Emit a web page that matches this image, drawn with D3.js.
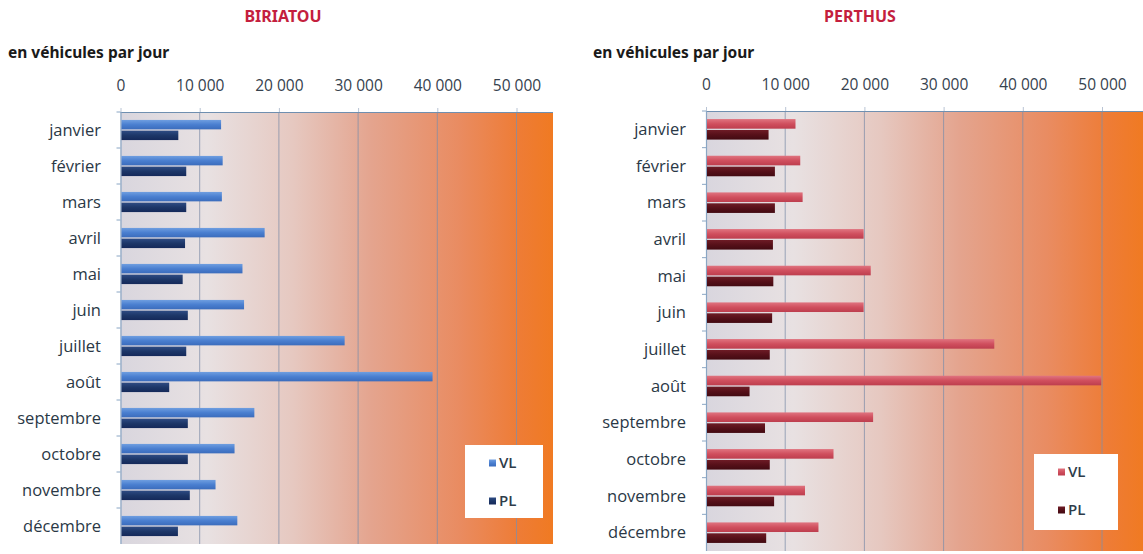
<!DOCTYPE html>
<html>
<head>
<meta charset="utf-8">
<script src="https://cdn.jsdelivr.net/npm/d3@7"></script>
<style>
  body { margin: 0; background: #fff; }
  .title { font-family: "Noto Sans", sans-serif; font-weight: bold; font-size: 16px; fill: #c41f3e; }
  .unit { font-family: "Noto Sans", sans-serif; font-weight: bold; font-size: 15.5px; fill: #1a1a1a; }
  .tick text { font-family: "Open Sans", sans-serif; font-size: 15.5px; font-weight: 500; fill: #36424e; }
  .month { font-family: "Open Sans", sans-serif; font-size: 16.5px; font-weight: 500; fill: #2a3846; }
  .legend text { font-family: "Open Sans", sans-serif; font-size: 15px; font-weight: 600; fill: #2e3c4a; }
</style>
</head>
<body>
<div id="chart"></div>
<script>
// data (vehicles per day)
var months = ["janvier", "février", "mars", "avril", "mai", "juin", "juillet",
  "août", "septembre", "octobre", "novembre", "décembre"];
var biriatouVL = [12700, 12900, 12800, 18200, 15400, 15600, 28300, 39400, 16900, 14400, 12000, 14750];
var biriatouPL = [7300, 8300, 8300, 8150, 7850, 8500, 8300, 6150, 8500, 8500, 8750, 7250];
var perthusVL = [11300, 11900, 12200, 19900, 20800, 19900, 36400, 49900, 21100, 16100, 12500, 14200];
var perthusPL = [7900, 8700, 8700, 8450, 8500, 8350, 8050, 5500, 7450, 8050, 8600, 7600];
var xTicks = [0, 10000, 20000, 30000, 40000, 50000];
var seriesNames = ["VL", "PL"];

var svgWidth = 1143;
var svgHeight = 554;

var svg = d3.select("#chart")
  .append("svg")
  .attr("width", svgWidth)
  .attr("height", svgHeight);

var defs = svg.append("defs");

// background gradient: grey-white -> salmon -> orange
var bg = defs.append("linearGradient").attr("id", "bgGrad")
  .attr("x1", "0%").attr("x2", "100%").attr("y1", "0%").attr("y2", "0%");
[["0%", "#d9d6de"], ["20%", "#e8e1e2"], ["40%", "#e6c8c0"], ["58%", "#e4a48e"],
 ["78%", "#e98c62"], ["92%", "#ee7c36"], ["100%", "#f07a22"]].forEach(function(s) {
  bg.append("stop").attr("offset", s[0]).attr("stop-color", s[1]);
});

// bar gradients (lighter on top)
function barGrad(id, top, mid, bottom) {
  var g = defs.append("linearGradient").attr("id", id)
    .attr("x1", "0%").attr("x2", "0%").attr("y1", "0%").attr("y2", "100%");
  g.append("stop").attr("offset", "0%").attr("stop-color", top);
  g.append("stop").attr("offset", "50%").attr("stop-color", mid);
  g.append("stop").attr("offset", "100%").attr("stop-color", bottom);
}
barGrad("bVL", "#6f9ee0", "#4a7fd0", "#3b6cbc");
barGrad("bPL", "#2e4c84", "#1d3768", "#15295a");
barGrad("pVL", "#e07480", "#d04f5e", "#bd3e4e");
barGrad("pPL", "#6e1c26", "#561019", "#420a12");

function drawChart(opts) {
  var g = svg.append("g");

  // title and unit
  g.append("text").attr("class", "title")
    .attr("x", opts.titleX).attr("y", 22)
    .attr("text-anchor", "middle")
    .text(opts.title);
  g.append("text").attr("class", "unit")
    .attr("x", opts.unitX).attr("y", 58)
    .text("en véhicules par jour");

  var x = d3.scaleLinear()
    .domain([0, 55000])
    .range([opts.left, opts.left + 55000 * opts.pxPer]);

  var y = d3.scaleBand()
    .domain(months)
    .range([opts.top, opts.bottom])
    .paddingInner(0.44)
    .paddingOuter(0.22);

  var ySub = d3.scaleBand()
    .domain(seriesNames)
    .range([0, y.bandwidth()])
    .paddingInner(0.12);

  // plot background
  g.append("rect")
    .attr("x", x(0)).attr("y", opts.top)
    .attr("width", opts.right - x(0)).attr("height", opts.bottom - opts.top)
    .attr("fill", "url(#bgGrad)");

  // vertical gridlines
  g.selectAll(".grid")
    .data(xTicks.slice(1))
    .enter()
    .append("line")
    .attr("x1", d => x(d)).attr("x2", d => x(d))
    .attr("y1", opts.top).attr("y2", opts.bottom)
    .attr("stroke", "#7f8ea8")
    .attr("stroke-opacity", 0.75)
    .attr("stroke-width", 1);

  // top axis
  var topAxis = d3.axisTop(x)
    .tickValues(xTicks)
    .tickSize(4)
    .tickPadding(17)
    .tickFormat(d => d3.format(",")(d).replace(",", " "));
  var xAxis = g.append("g")
    .attr("transform", `translate(0, ${opts.top})`)
    .call(topAxis);
  xAxis.select(".domain").remove();
  xAxis.selectAll(".tick line").attr("stroke", "#b9c4d4");
  g.append("line")
    .attr("x1", x(0)).attr("x2", opts.right)
    .attr("y1", opts.top + 0.5).attr("y2", opts.top + 0.5)
    .attr("stroke", "#6f8fb0").attr("stroke-width", 1.2);

  // left axis line and category ticks
  g.append("line")
    .attr("x1", x(0) + 0.5).attr("x2", x(0) + 0.5)
    .attr("y1", opts.top).attr("y2", opts.bottom)
    .attr("stroke", "#8aa6c4").attr("stroke-width", 1.2);
  g.selectAll(".ytick")
    .data(months)
    .enter()
    .append("line")
    .attr("x1", x(0) - 4).attr("x2", x(0))
    .attr("y1", d => y(d) - y.step() * y.paddingInner() / 2)
    .attr("y2", d => y(d) - y.step() * y.paddingInner() / 2)
    .attr("stroke", "#8aa6c4");

  // month labels
  g.selectAll(".month")
    .data(months)
    .enter()
    .append("text")
    .attr("class", "month")
    .attr("x", opts.labelX)
    .attr("y", d => y(d) + y.bandwidth() / 2)
    .attr("dy", "0.35em")
    .attr("text-anchor", "end")
    .text(d => d);

  // bars
  var rows = months.map(function(m, i) {
    return { month: m, VL: opts.vl[i], PL: opts.pl[i] };
  });
  seriesNames.forEach(function(s) {
    g.selectAll(".bar" + s)
      .data(rows)
      .enter()
      .append("rect")
      .attr("x", x(0) + 1)
      .attr("y", d => y(d.month) + ySub(s))
      .attr("width", d => x(d[s]) - x(0) - 1)
      .attr("height", ySub.bandwidth())
      .attr("fill", `url(#${opts.fill[s]})`);
  });

  // legend
  var lg = g.append("g").attr("class", "legend");
  lg.append("rect")
    .attr("x", opts.legend[0]).attr("y", opts.legend[1])
    .attr("width", opts.legend[2]).attr("height", opts.legend[3])
    .attr("fill", "#ffffff");
  seriesNames.forEach(function(s, i) {
    var cy = opts.legend[1] + 18 + i * 38;
    lg.append("rect")
      .attr("x", opts.legend[0] + 24).attr("y", cy - 3.5)
      .attr("width", 7).attr("height", 7)
      .attr("fill", `url(#${opts.fill[s]})`);
    lg.append("text")
      .attr("x", opts.legend[0] + 34).attr("y", cy)
      .attr("dy", "0.36em")
      .text(s);
  });
}

drawChart({
  title: "BIRIATOU", titleX: 283, unitX: 8,
  left: 120.5, pxPer: 79.2 / 10000, right: 553,
  top: 112, bottom: 544, labelX: 101,
  vl: biriatouVL, pl: biriatouPL,
  fill: { VL: "bVL", PL: "bPL" },
  legend: [465, 445, 78, 73]
});

drawChart({
  title: "PERTHUS", titleX: 860, unitX: 593,
  left: 706, pxPer: 79.2 / 10000, right: 1143,
  top: 111, bottom: 551, labelX: 686,
  vl: perthusVL, pl: perthusPL,
  fill: { VL: "pVL", PL: "pPL" },
  legend: [1034, 454, 84, 76]
});
</script>
</body>
</html>
